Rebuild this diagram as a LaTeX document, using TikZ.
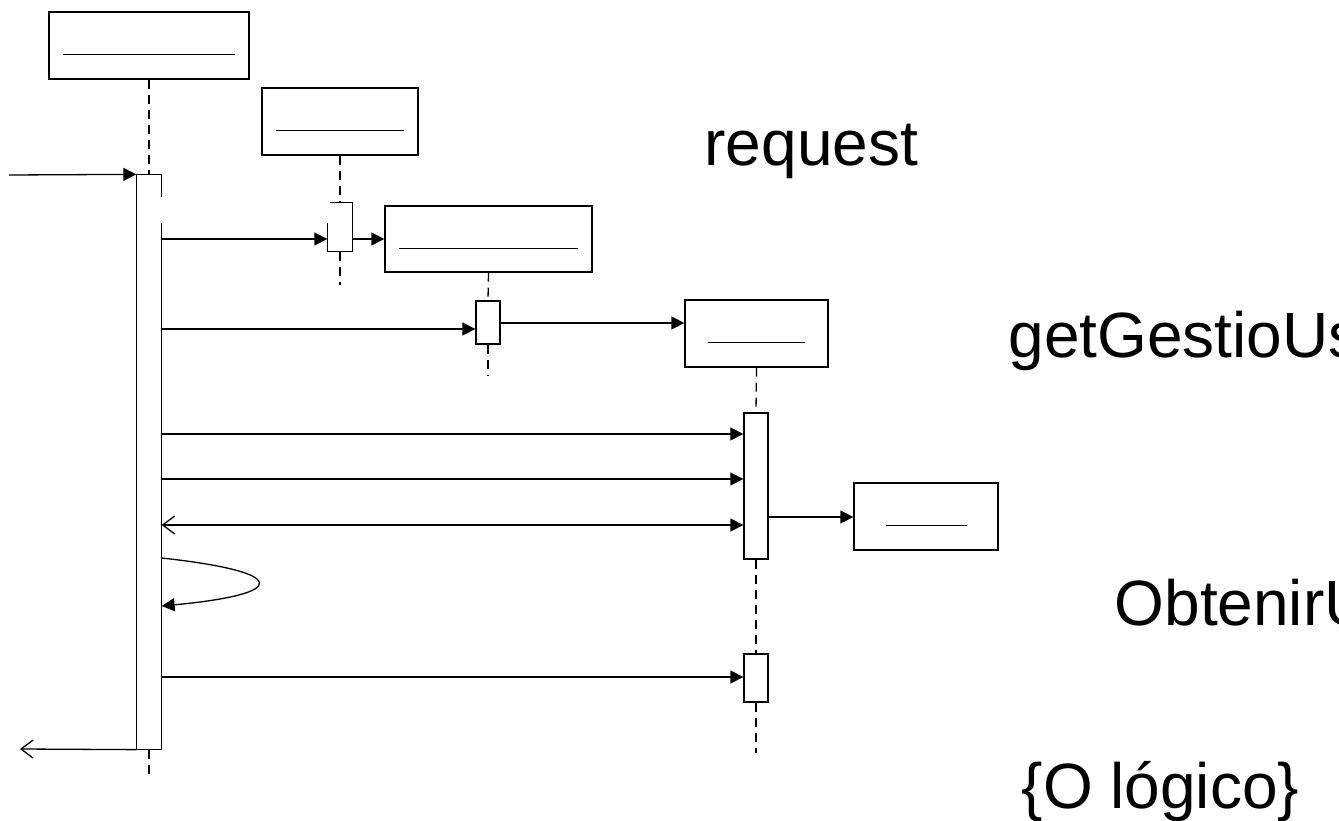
\documentclass[tikz,border=0pt]{standalone}
\usepackage{fontspec}
\setmainfont{Liberation Sans}
\usetikzlibrary{arrows.meta,calc}
\begin{document}
\begin{tikzpicture}[x=1pt,y=-1pt,line width=1.3pt,
  obj/.style={draw,rectangle,inner sep=0pt},
  act/.style={rectangle,inner sep=0pt,minimum width=24pt},
  actd/.style={act,draw,fill=white},
  life/.style={dash pattern=on 9pt off 6pt},
  msg/.style={-{Triangle[length=13pt,width=13pt]}},
  ret/.style={-{Straight Barb[length=12pt,width=18pt,line width=1.3pt]}},
  lbl/.style={inner sep=0pt,anchor=base west,font=\fontsize{64}{70}\selectfont}]
\useasboundingbox (0,0) rectangle (1339,821);
% objects
\node[obj,minimum width=200pt,minimum height=67pt] (b1) at (149,45.5) {};
\node[obj,minimum width=156pt,minimum height=67pt] (b2) at (340,121.5) {};
\node[obj,minimum width=207pt,minimum height=66pt] (b3) at (488.5,239) {};
\node[obj,minimum width=143pt,minimum height=67pt] (b4) at (756.5,333.5) {};
\node[obj,minimum width=144pt,minimum height=67pt] (b5) at (926,516.5) {};
\draw ($(b1.south west)+(15,-25)$) -- ($(b1.south east)+(-15,-25)$);
\draw ($(b2.south west)+(15,-25)$) -- ($(b2.south east)+(-15,-25)$);
\draw ($(b3.south west)+(15,-24)$) -- ($(b3.south east)+(-15,-24)$);
\draw ($(b4.south west)+(24,-25)$) -- ($(b4.south east)+(-24,-25)$);
\draw ($(b5.south west)+(33,-25)$) -- ($(b5.south east)+(-32,-25)$);
% activations
\node[act,minimum height=574pt] (a1) at (149,462) {};
\node[act,minimum height=48pt] (a2) at (340,227) {};
\node[actd,minimum height=43pt] (a3) at (488,322.5) {};
\node[actd,minimum height=146pt] (a4) at (756,486) {};
\node[actd,minimum height=48pt] (a5) at (756,678) {};
\draw ($(a1.north east)+(0,23)$) -- (a1.north east) -- (a1.north west) -- (a1.south west) -- (a1.south east) -- ($(a1.north east)+(0,49)$);
\draw ($(a2.north west)+(3,0)$) -- (a2.north east) -- (a2.south east) -- (a2.south west) -- ($(a2.north west)+(0,21)$);
% lifeline ends
\coordinate (e1) at (149,775);
\coordinate (e2) at (340,285);
\coordinate (e3) at (488,375);
\coordinate (e4) at (756,753);
\draw[life] (b1.south) -- (a1.north);
\draw[life] (a1.south) -- (e1);
\draw[life] (b2.south) -- (a2.north);
\draw[life] (a2.south) -- (e2);
\draw[life] (b3.south) -- (a3.north);
\draw[life] (a3.south) -- (e3);
\draw[life] (b4.south) -- (a4.north);
\draw[life] (a4.south) -- (a5.north);
\draw[life] (a5.south) -- (e4);
% messages
\coordinate (in) at (9,175);
\coordinate (out) at (20,749);
\draw[msg] (in) -- (a1.north west);
\draw[msg] (163,239 -| a1.east) -- (a2.west |- 0,239);
\draw[msg] (a2.east |- 0,239) -- (b3.west |- 0,239);
\draw[msg] (163,329 -| a1.east) -- (a3.west |- 0,329);
\draw[msg] (a3.east |- 0,323) -- (b4.west |- 0,323);
\draw[msg] (a1.east |- 0,434) -- (a4.west |- 0,434);
\draw[msg] (a1.east |- 0,479) -- (a4.west |- 0,479);
\draw[{Straight Barb[length=12pt,width=18pt,line width=1.3pt]}-{Triangle[length=13pt,width=13pt]}] (a1.east |- 0,525) -- (a4.west |- 0,525);
\draw[msg] (a4.east |- 0,517) -- (b5.west |- 0,517);
\draw[msg] (a1.east |- 0,558) .. controls (290,572) and (290,594) .. (a1.east |- 0,606);
\draw[msg] (a1.east |- 0,677) -- (a5.west |- 0,677);
\draw[ret] (a1.south west) -- (out);
% labels
\node[lbl] (t1) at (704,166) {request};
\node[lbl] (t2) at (1008,357) {getGestioUs};
\node[lbl] (t3) at (1114,625) {ObtenirU};
\node[lbl] (t4) at (1021,808) {\{O lógico\}};
\end{tikzpicture}
\end{document}
